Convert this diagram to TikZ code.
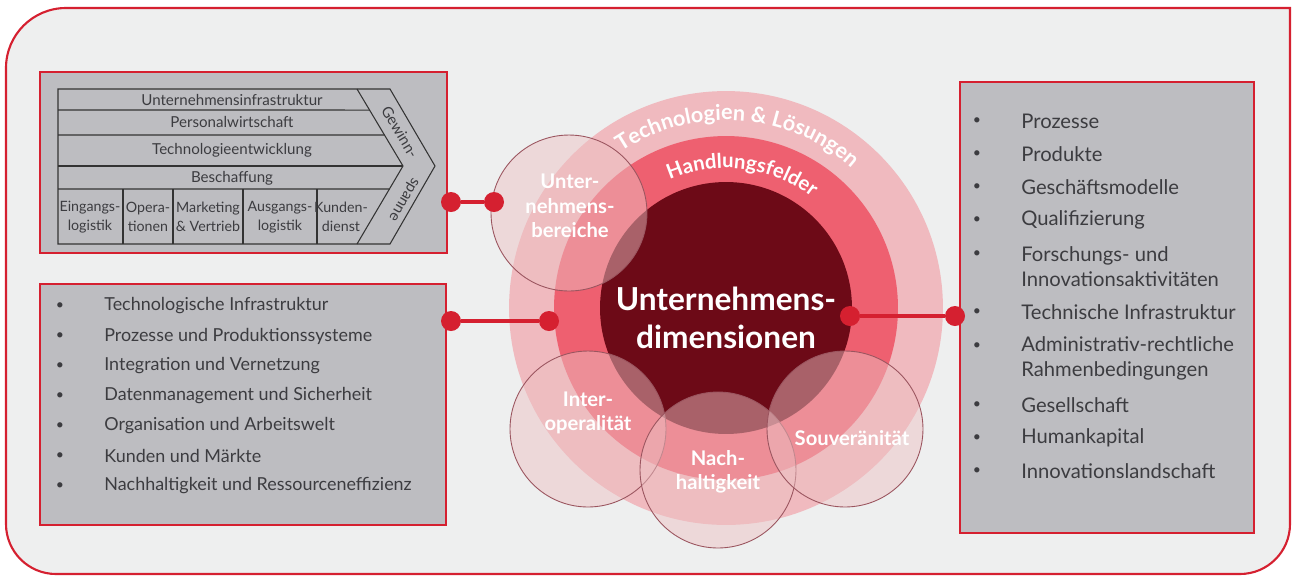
\documentclass[tikz,border=0pt]{standalone}
\usepackage{fontspec}
\setmainfont{Lato}
\usetikzlibrary{positioning}
\usetikzlibrary{calc}
\usetikzlibrary{decorations.text}
\definecolor{framered}{RGB}{213,32,48}
\definecolor{panelgrey}{RGB}{189,189,193}
\definecolor{bggrey}{RGB}{238,239,239}
\definecolor{ringlight}{RGB}{240,186,191}
\definecolor{ringmid}{RGB}{238,96,112}
\definecolor{ringdark}{RGB}{109,10,23}
\definecolor{bubblefill}{RGB}{236,193,195}
\definecolor{bubbleline}{RGB}{155,85,95}
\definecolor{txtgrey}{RGB}{60,60,64}
\newcommand\ringfont{\bfseries}
\tikzset{
  panel/.style={draw=framered, line width=1.4pt, fill=panelgrey, anchor=north west, inner sep=0pt},
  chain/.style={draw=black!80, line width=0.6pt},
  chaintxt/.style={font=\fontsize{8.6}{11}\selectfont, text=txtgrey, align=center, inner sep=0pt},
  celltxt/.style={font=\fontsize{8.1}{11}\selectfont, text=txtgrey, align=center, inner sep=0pt},
  dot/.style={circle, fill=framered, minimum size=0.4cm, inner sep=0pt},
  link/.style={draw=framered, line width=2.3pt},
  bubble/.style={circle, draw=bubbleline, line width=0.5pt, fill=bubblefill, fill opacity=0.48, minimum size=3.12cm, inner sep=0pt},
  bubbletxt/.style={font=\fontsize{11.5}{14}\selectfont\bfseries, text=white, align=center},
  bullet/.style={font=\fontsize{8}{10}\selectfont, text=txtgrey, inner sep=0pt},
  itemleft/.style={anchor=west, font=\fontsize{10.2}{12}\selectfont, text=txtgrey, align=left, inner sep=0pt},
  itemright/.style={anchor=west, font=\fontsize{11.5}{14}\selectfont, text=txtgrey, align=left, inner sep=0pt}
}
\begin{document}
\begin{tikzpicture}[x=0.02cm, y=0.02cm]
    \useasboundingbox (0,0) rectangle (1292,-576);
    \draw[framered, line width=1.2pt, fill=bggrey] (6,-68) arc[start angle=180, end angle=90, radius=60]
        -- (1290,-8) -- (1290,-524) arc[start angle=0, end angle=-90, radius=50]
        -- (56,-574) arc[start angle=270, end angle=180, radius=50] -- cycle;

    % boxes
    \node[panel, minimum width=8.14cm, minimum height=3.62cm] (chainbox) at (39,-71) {};
    \node[panel, minimum width=8.12cm, minimum height=4.82cm] (fieldbox) at (39,-283) {};
    \node[panel, minimum width=5.88cm, minimum height=9.02cm] (dimbox) at (959,-81) {};

    % value chain
    \coordinate (itop) at (357,-89);
    \coordinate (itip) at (403,-166);
    \coordinate (ibot) at (357,-244);
    \draw[chain] (58,-89) -- (390,-89) -- (435,-166) -- (390,-244) -- (58,-244) -- cycle;
    \draw[chain] (itop) -- (itip) -- (ibot);
    \draw[chain] (58,-110) -- ($(itop)!0.273!(itip)$);
    \draw[chain] (58,-135) -- ($(itop)!0.597!(itip)$);
    \draw[chain] (58,-166) -- (itip);
    \draw[chain] (58,-189) -- ($(itip)!0.295!(ibot)$);
    \foreach \x in {123,173,243,317}
        \draw[chain] (\x,-189) -- (\x,-244);

    \node[chaintxt] (infra) at (232,-100) {Unternehmensinfrastruktur};
    \node[chaintxt] (personal) at (232,-122) {Personalwirtschaft};
    \node[chaintxt] (techdev) at (232,-150) {Technologieentwicklung};
    \node[chaintxt] (procure) at (232,-178) {Beschaffung};
    \node[celltxt] (inlog) at (90,-217) {Eingangs-\\logistik};
    \node[celltxt] (ops) at (148,-217) {Opera-\\tionen};
    \node[celltxt] (market) at (208,-217) {Marketing\\\& Vertrieb};
    \node[celltxt] (outlog) at (280,-217) {Ausgangs-\\logistik};
    \node[celltxt] (service) at (341,-217) {Kunden-\\dienst};
    \node[chaintxt, rotate=-59] (margin1) at (400,-132) {Gewinn-};
    \node[chaintxt, rotate=-120.5] (margin2) at (403,-199) {spanne};

    % rings
    \node[circle, fill=ringlight, minimum size=8.68cm, inner sep=0pt] (ringout) at (726,-308) {};
    \node[circle, fill=ringmid, minimum size=6.88cm, inner sep=0pt] (ringin) at (726,-308) {};
    \node[circle, fill=ringdark, minimum size=5.04cm, inner sep=0pt] (core) at (726,-308) {};

    \begin{scope}
    \fontsize{12.3}{14}\selectfont
    \path[decorate, decoration={text along path, text align=center, text color=white,
        text={|\ringfont|Technologien {\&} L{ö}sungen}}]
        (726,-308) ++(136:188) arc[start angle=136, end angle=36, radius=188];
    \end{scope}
    \begin{scope}
    \fontsize{11.6}{14}\selectfont
    \path[decorate, decoration={text along path, text align=center, text color=white,
        text={|\ringfont|Handlungsfelder}}]
        (726,-308) ++(133:140) arc[start angle=133, end angle=33, radius=140];
    \end{scope}

    % bubbles
    \node[bubble] (areas) at (569,-213) {};
    \node[bubble] (interop) at (588,-429) {};
    \node[bubble] (sustain) at (718,-470) {};
    \node[bubble] (sovereign) at (845,-429) {};

    \node[bubbletxt] (areaslbl) at (570,-206) {Unter-\\nehmens-\\bereiche};
    \node[bubbletxt] (interoplbl) at (588,-413) {Inter-\\operalität};
    \node[bubbletxt] (sustainlbl) at (718,-472) {Nach-\\haltigkeit};
    \node[bubbletxt] (sovereignlbl) at (852,-438) {Souveränität};
    \node[font=\fontsize{18}{22}\selectfont\bfseries, text=white, align=center] (corelbl) at (726,-318) {Unternehmens-\\dimensionen};

    % left list
    \foreach \t [count=\i] in {Technologische Infrastruktur, Prozesse und Produktionssysteme,
        Integration und Vernetzung, Datenmanagement und Sicherheit, Organisation und Arbeitswelt,
        Kunden und Märkte, Nachhaltigkeit und Ressourceneffizienz} {
        \node[bullet] (lb\i) at (60,{-306-30*(\i-1)}) {\textbullet};
        \node[itemleft] (li\i) at (104,{-306-30*(\i-1)}) {\t};
    }

    % right list
    \foreach \by/\ty/\t [count=\i] in {121/121/Prozesse, 154/154/Produkte, 187/187/Geschäftsmodelle,
        220/220/Qualifizierung, 254/266.5/{Forschungs- und\\Innovationsaktivitäten},
        312/312/Technische Infrastruktur, 346/358.5/{Administrativ-rechtliche\\Rahmenbedingungen},
        405/405/Gesellschaft, 438/438/Humankapital, 471/471/Innovationslandschaft} {
        \node[bullet] (rb\i) at (977,-\by) {\textbullet};
        \node[itemright] (ri\i) at (1021,-\ty) {\t};
    }

    % connectors
    \node[dot] (chainend) at (451,-202) {};
    \node[dot] (areasend) at (494,-202) {};
    \node[dot] (fieldend) at (451,-321) {};
    \node[dot] (ringend) at (549,-321) {};
    \node[dot] (coreend) at (850,-316) {};
    \node[dot] (dimend) at (955,-316) {};
    \draw[link] (chainend) -- (areasend);
    \draw[link] (fieldend) -- (ringend);
    \draw[link] (coreend) -- (dimend);
\end{tikzpicture}
\end{document}
